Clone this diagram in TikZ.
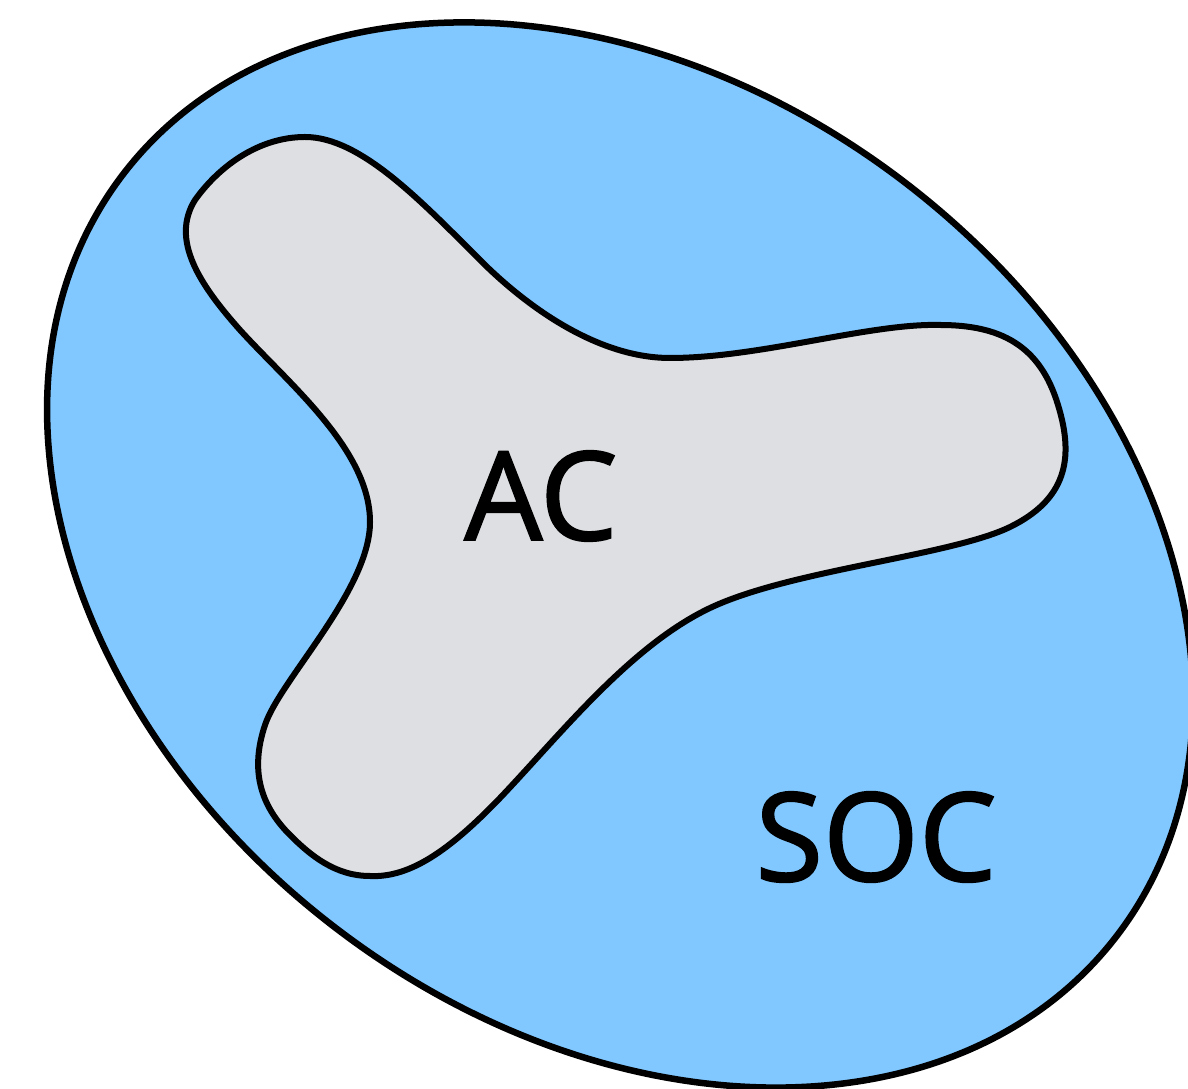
\documentclass[tikz,border=0pt]{standalone}
\usepackage{fontspec}
\setmainfont{Open Sans}
\newfontfamily\lblfont{Open Sans}[FakeBold=1.6]
\definecolor{socblue}{RGB}{128,200,255}
\definecolor{acgrey}{RGB}{221,223,226}
\begin{document}
\begin{tikzpicture}[x=0.01cm,y=-0.01cm,
  outline/.style={draw=black,line width=0.065cm},
  lbl/.style={font=\fontsize{35}{40}\lblfont,text=black,inner sep=0pt}]
\useasboundingbox (0,0) rectangle (1188,1089);
\clip (0,0) rectangle (1188,1089);
\draw[outline,fill=socblue,rotate around={-37.5:(620,555)}] (620,555) ellipse [x radius=626, y radius=469];
\draw[outline,line width=0.06cm,fill=acgrey]
 (305,137) .. controls (360,137) and (420,200) .. (480,260)
 .. controls (530,310) and (600,358) .. (670,358)
 .. controls (760,358) and (870,323) .. (940,325)
 .. controls (1000,325) and (1040,345) .. (1058,405)
 .. controls (1075,460) and (1065,500) .. (1010,527)
 .. controls (950,556) and (790,570) .. (710,608)
 .. controls (630,646) and (560,735) .. (500,798)
 .. controls (450,850) and (410,878) .. (370,876)
 .. controls (335,876) and (310,855) .. (290,835)
 .. controls (260,805) and (250,770) .. (265,725)
 .. controls (280,680) and (370,590) .. (370,522)
 .. controls (370,450) and (290,385) .. (240,330)
 .. controls (200,285) and (170,240) .. (195,200)
 .. controls (220,165) and (260,137) .. cycle;
\node[lbl] (ac) at (541,496) {AC};
\node[lbl] (soc) at (876,837) {SOC};
\end{tikzpicture}
\end{document}
